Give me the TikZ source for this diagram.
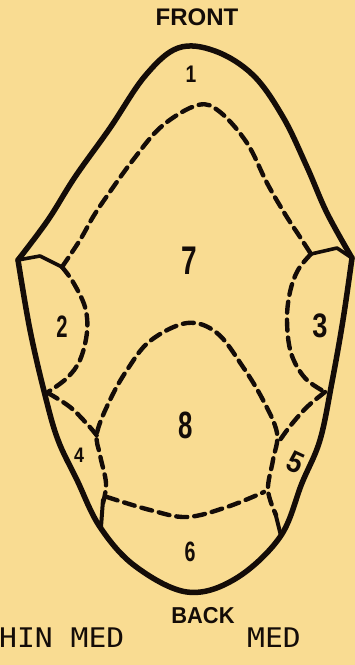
\documentclass[tikz,border=0pt]{standalone}
\usepackage{fontspec}
\newfontfamily\labfont{Liberation Sans}
\newfontfamily\monofont{DejaVu Sans Mono}
\definecolor{paper}{RGB}{249,220,146}
\definecolor{ink}{RGB}{20,12,8}
\begin{document}
\begin{tikzpicture}[x=1pt,y=-1pt,
  outline/.style={draw=ink,line width=5.5pt,line join=round,line cap=round},
  zone/.style={draw=ink,line width=4.4pt,dash pattern=on 11pt off 7pt,line cap=round},
  tick/.style={draw=ink,line width=3.6pt,line cap=round,line join=round},
  num/.style={text=ink,inner sep=0pt,font=\labfont\bfseries},
  head/.style={text=ink,inner sep=0pt,font=\labfont\bfseries\fontsize{24}{24}\selectfont},
  foot/.style={text=ink,inner sep=0pt,font=\monofont\fontsize{27}{27}\selectfont,xscale=1.1}]
\fill[paper] (0,0) rectangle (355,665);
\useasboundingbox (0,0) rectangle (355,665);
% outer outline
\coordinate (lc) at (18,260);
\coordinate (rc) at (352,258);
\draw[outline] plot[smooth,tension=0.6] coordinates {(18,260) (48,220) (75,177) (110,128) (145,76) (178,48) (215,51) (253,75) (283,117) (307,167) (327,213) (352,258)};
\draw[outline] plot[smooth,tension=0.6] coordinates {(352,258) (343,320) (332,382) (320,440) (302,483) (280,537) (235,579) (187,592) (135,566) (100,527) (77,480) (58,440) (45,395) (30,330) (18,260)};
% junctions
\coordinate (lj) at (62,267);
\coordinate (rj) at (311,254);
\draw[tick] (lc) -- (40,256) -- (lj);
\draw[tick] (rc) -- (337,248) -- (rj);
% region 1 / 7 boundary
\draw[zone] plot[smooth,tension=0.6] coordinates {(lj) (80,240) (93,217) (107,196) (133,160) (162,126) (198,105) (220,112) (247,143) (267,183) (285,214) (300,237) (rj)};
% region 2
\draw[zone] plot[smooth,tension=0.6] coordinates {(lj) (73,282) (85,307) (87,332) (80,360) (67,378) (48,392)};
% region 3
\draw[zone] plot[smooth,tension=0.6] coordinates {(rj) (298,270) (290,292) (287,320) (291,353) (305,378) (325,392)};
% region 8 dome
\draw[zone] plot[smooth,tension=0.6] coordinates {(103,503) (106,483) (100,455) (97,433) (110,400) (127,370) (150,341) (187,323) (217,333) (243,367) (263,400) (277,433) (273,460) (268,490) (276,515)};
\draw[tick,line width=4pt] (103,500) -- (101,527);
\draw[tick,line width=4pt] (275,512) -- (281,536);
% region 4
\draw[zone] plot[smooth,tension=0.6] coordinates {(48,393) (70,407) (88,425) (98,437)};
% region 5
\draw[zone] plot[smooth,tension=0.6] coordinates {(325,392) (307,407) (291,425) (280,440)};
% region 6
\draw[zone] plot[smooth,tension=0.6] coordinates {(107,497) (150,510) (187,517) (227,507) (264,492)};
% labels
\node[head] (front) at (197,17) {FRONT};
\node[head,font=\labfont\bfseries\fontsize{23}{23}\selectfont,xscale=0.95] (back) at (203,616) {BACK};
\node[num,font=\labfont\bfseries\fontsize{24}{24}\selectfont,xscale=0.8] (n1) at (191,74) {1};
\node[num,font=\labfont\bfseries\fontsize{40}{40}\selectfont,xscale=0.7] (n7) at (189,261) {7};
\node[num,font=\labfont\bfseries\fontsize{38}{38}\selectfont,xscale=0.68] (n8) at (186,425) {8};
\node[num,font=\labfont\bfseries\fontsize{31}{31}\selectfont,xscale=0.65] (n2) at (62,327) {2};
\node[num,font=\labfont\bfseries\fontsize{34}{34}\selectfont,xscale=0.8] (n3) at (320,326) {3};
\node[num,font=\labfont\bfseries\fontsize{21}{21}\selectfont,xscale=0.85] (n4) at (79,455) {4};
\node[num,font=\labfont\bfseries\fontsize{30}{30}\selectfont,rotate=-25,xscale=0.9] (n5) at (296,462) {5};
\node[num,font=\labfont\bfseries\fontsize{28}{28}\selectfont,xscale=0.7] (n6) at (190,552) {6};
\node[foot,anchor=base west] (hin) at (-1,647) {HIN MED};
\node[foot,anchor=base west] (med) at (247,647) {MED};
\end{tikzpicture}
\end{document}
